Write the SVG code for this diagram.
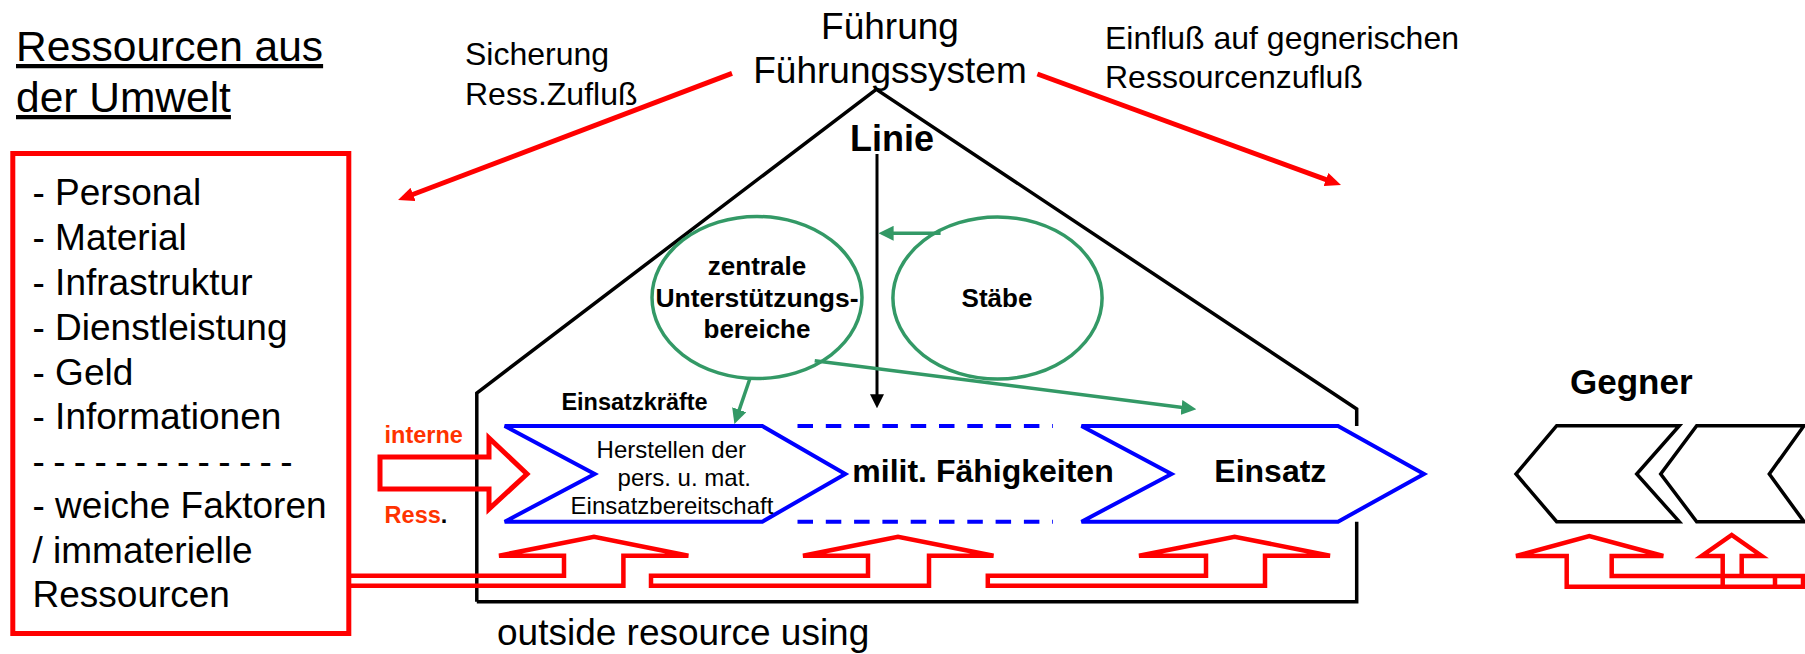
<svg xmlns="http://www.w3.org/2000/svg" width="1805" height="654" viewBox="0 0 1805 654">
<defs>
<style>
text { font-family: "Liberation Sans", Arial, Helvetica, sans-serif; fill: #000; }
.b { font-weight: bold; }
.rline { fill: none; stroke: #ff0000; stroke-width: 5; }
.pipe { fill: none; stroke: #ff0000; stroke-width: 4.5; stroke-linejoin: miter; }
.chev { fill: #ffffff; stroke: #0000ff; stroke-width: 4; }
.dash { fill: none; stroke: #0000ff; stroke-width: 4; stroke-dasharray: 15.5 12.8; }
.green { fill: none; stroke: #339966; stroke-width: 3.5; }
.house { fill: none; stroke: #000; stroke-width: 3.5; }
.gchev { fill: #ffffff; stroke: #000; stroke-width: 3.5; }
.orange { fill: #ff3300; }
</style>
<marker id="redHead" viewBox="0 0 16 14" refX="6" refY="7" markerWidth="16" markerHeight="14" markerUnits="userSpaceOnUse" orient="auto">
<path d="M0,0 L16,7 L0,14 Z" fill="#ff0000"/>
</marker>
<marker id="greenHead" viewBox="0 0 15 15" refX="7" refY="7.5" markerWidth="15" markerHeight="15" markerUnits="userSpaceOnUse" orient="auto">
<path d="M0,0 L15,7.5 L0,15 Z" fill="#339966"/>
</marker>
<marker id="blackHead" viewBox="0 0 14 14" refX="6" refY="7" markerWidth="14" markerHeight="14" markerUnits="userSpaceOnUse" orient="auto">
<path d="M0,0 L14,7 L0,14 Z" fill="#000"/>
</marker>
</defs>
<rect width="1805" height="654" fill="#ffffff"/>

<g id="title">
<text x="16" y="61" font-size="42.5" text-decoration="underline">Ressourcen aus</text>
<text x="16" y="112" font-size="42.5" text-decoration="underline">der Umwelt</text>
</g>

<g id="ressourcen-box">
<rect x="12.8" y="153.5" width="336" height="480" fill="none" stroke="#ff0000" stroke-width="5"/>
<text x="32.5" y="205" font-size="37">- Personal</text>
<text x="32.5" y="250" font-size="37">- Material</text>
<text x="32.5" y="295" font-size="37">- Infrastruktur</text>
<text x="32.5" y="340" font-size="37">- Dienstleistung</text>
<text x="32.5" y="385" font-size="37">- Geld</text>
<text x="32.5" y="429" font-size="37">- Informationen</text>
<text x="32.5" y="474" font-size="37" textLength="260" lengthAdjust="spacing">- - - - - - - - - - - - -</text>
<text x="32.5" y="518" font-size="37">- weiche Faktoren</text>
<text x="32.5" y="563" font-size="37">/ immaterielle</text>
<text x="32.5" y="607" font-size="37">Ressourcen</text>
</g>

<g id="fuehrung">
<text x="890" y="39" font-size="37" text-anchor="middle">Führung</text>
<text x="890" y="83" font-size="37" text-anchor="middle">Führungssystem</text>
</g>

<g id="sicherung">
<text x="465" y="65" font-size="32">Sicherung</text>
<text x="465" y="105" font-size="32">Ress.Zufluß</text>
</g>

<g id="einfluss">
<text x="1105" y="49" font-size="32">Einfluß auf gegnerischen</text>
<text x="1105" y="88" font-size="32">Ressourcenzufluß</text>
</g>

<g id="haus">
<path class="house" d="M476.8,601.7 V393 L876.3,89.3 L1356.7,409 V426"/>
<path class="house" d="M1356.7,521.7 V601.7 H476.8"/>
</g>

<g id="linie">
<text x="892" y="150.7" font-size="36" class="b" text-anchor="middle">Linie</text>
</g>

<g id="zentrale">
<ellipse cx="757" cy="297.5" rx="105" ry="81" class="green"/>
<text x="757" y="275" font-size="26" class="b" text-anchor="middle">zentrale</text>
<text x="757" y="306.7" font-size="26.5" class="b" text-anchor="middle">Unterstützungs-</text>
<text x="757" y="338.3" font-size="26" class="b" text-anchor="middle">bereiche</text>
</g>

<g id="staebe">
<ellipse cx="997.5" cy="298" rx="104.6" ry="81" class="green"/>
<text x="997" y="307" font-size="26" class="b" text-anchor="middle">Stäbe</text>
</g>

<g id="einsatzkraefte">
<text x="561.4" y="410" font-size="23.5" class="b">Einsatzkräfte</text>
</g>

<g id="herstellen">
<path class="chev" d="M504.7,426 H762.3 L845.3,474 L762.3,521.7 H504.7 L594.7,474 Z"/>
<text x="596.6" y="458.3" font-size="24">Herstellen der</text>
<text x="617.6" y="486" font-size="24">pers. u. mat.</text>
<text x="570.6" y="514" font-size="24">Einsatzbereitschaft</text>
</g>

<g id="faehigkeiten">
<path class="dash" d="M797.5,426 H1053 M797.5,521.7 H1053"/>
<text x="983" y="481.7" font-size="32" class="b" text-anchor="middle">milit. Fähigkeiten</text>
</g>

<g id="einsatz">
<path class="chev" d="M1081.5,426 H1338 L1424,474 L1338,521.7 H1081.5 L1171.5,474 Z"/>
<text x="1214.3" y="481.7" font-size="32" class="b">Einsatz</text>
</g>

<g id="interne-ress">
<path class="rline" d="M380,457 H489 V438 L527,474 L489,509 V489 H380 Z"/>
<text x="384.6" y="442.7" font-size="23.5" class="b orange">interne</text>
<text x="384.6" y="522.7" font-size="23.5" class="b"><tspan class="orange">Ress</tspan>.</text>
</g>

<g id="gegner">
<text x="1570" y="394" font-size="35" class="b">Gegner</text>
<path class="gchev" d="M1556.7,425.7 H1679.3 L1636.7,474 L1679.3,521.7 H1556.7 L1516,474 Z"/>
<path class="gchev" d="M1696.7,425.7 H1804 L1769.3,474 L1804,521.7 H1696.7 L1660.7,474 Z"/>
</g>

<g id="connectors">
<line x1="732" y1="73.3" x2="407.4" y2="196.5" class="rline" marker-end="url(#redHead)"/>
<line x1="1037.4" y1="74" x2="1331.6" y2="181.6" class="rline" marker-end="url(#redHead)"/>
<line x1="877" y1="154" x2="877" y2="400.3" stroke="#000" stroke-width="3" marker-end="url(#blackHead)"/>
<line x1="940.6" y1="233.3" x2="886.6" y2="233.3" class="green" marker-end="url(#greenHead)"/>
<line x1="749.7" y1="379.3" x2="737" y2="416.4" class="green" marker-end="url(#greenHead)"/>
<line x1="814.7" y1="360.7" x2="1188.4" y2="408.3" class="green" marker-end="url(#greenHead)"/>
<path class="pipe" d="M349,575.7 H564 V555.7 H499 L594,536.7 L688.4,555.7 H623.4 V585.7 H349"/>
<path class="pipe" d="M651,575.7 H868 V555.7 H803 L898,536.7 L993.5,555.7 H929 V585.7 H651 Z"/>
<path class="pipe" d="M987.8,575.7 H1206 V555.7 H1139 L1234.6,536.7 L1330,555.7 H1265 V585.7 H987.8 Z"/>
<path class="pipe" d="M1805,576 H1611.7 V556 H1663.3 L1589.3,536 L1516,556 H1566.7 V586.7 H1805"/>
<path class="pipe" d="M1722.7,586.7 V556 H1701.7 L1731.7,535 L1761.7,556 H1741.7 V576"/>
<path class="pipe" d="M1775,576 V586.7 M1803,576 V586.7"/>
</g>

<g id="outside">
<text x="497" y="645" font-size="37">outside resource using</text>
</g>
</svg>
